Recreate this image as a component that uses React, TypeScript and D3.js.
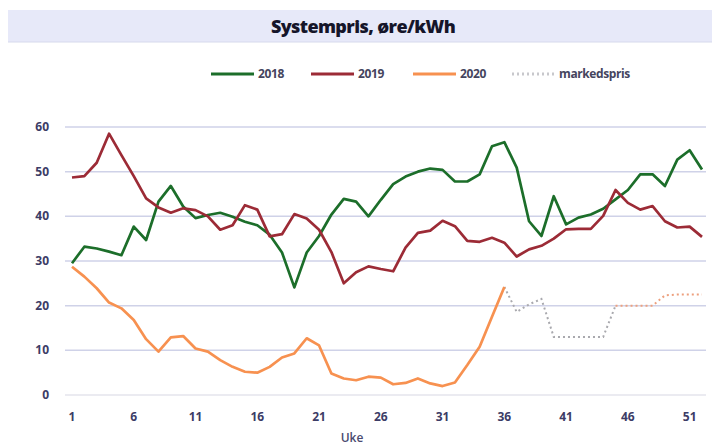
import React from 'react';
import * as d3 from 'd3';

const xTicks = [1, 6, 11, 16, 21, 26, 31, 36, 41, 46, 51];
const yTicks = [0, 10, 20, 30, 40, 50, 60];

const p2018 = [29.5, 33.2, 32.8, 32.1, 31.3, 37.7, 34.7, 43.3, 46.8, 42.2, 39.6, 40.3, 40.8, 39.9, 38.8, 38,
  35.9, 31.9, 24.1, 31.9, 35.6, 40.4, 43.9, 43.3, 40, 43.7, 47.2, 48.9, 50, 50.7, 50.4, 47.8,
  47.8, 49.4, 55.7, 56.6, 50.9, 38.9, 35.6, 44.5, 38.2, 39.7, 40.4, 41.7, 43.8, 45.9, 49.4, 49.4,
  46.8, 52.7, 54.8, 50.5];
const p2019 = [48.7, 49, 52, 58.5, 53.7, 49, 44, 42, 40.8, 41.8, 41.4, 40, 37, 38, 42.5, 41.5,
  35.5, 36, 40.5, 39.5, 37, 32, 25, 27.5, 28.8, 28.2, 27.7, 33, 36.3, 36.8, 39, 37.8,
  34.5, 34.3, 35.2, 34.1, 31, 32.6, 33.4, 35, 37.1, 37.2, 37.2, 40.1, 45.9, 43, 41.5, 42.3,
  38.9, 37.5, 37.7, 35.4];
const p2020 = [28.7, 26.5, 23.9, 20.7, 19.4, 16.8, 12.5, 9.7, 12.9, 13.2, 10.4, 9.7, 7.8, 6.3, 5.2, 5,
  6.3, 8.4, 9.3, 12.7, 11.1, 4.8, 3.7, 3.3, 4.1, 3.9, 2.4, 2.7, 3.7, 2.6, 2, 2.8,
  6.7, 10.8, 17.5, 24.2];
// markedspris starts at week 36
const marketStart = 36;
const market = [24.2, 18.6, 20.3, 21.5, 13, 13, 13, 13, 13, 20, 20, 20, 20, 22.3, 22.5, 22.5, 22.5];

const W = 712;
const H = 445;
const font = "'Open Sans', 'DejaVu Sans', sans-serif";
const textColor = '#3c3c66';

const x = d3.scaleLinear().domain([1, 52]).range([72, 702]);
const y = d3.scaleLinear().domain([0, 60]).range([395, 127]);

type Pt = { w: number; v: number };
const toPts = (vals: number[], start = 1): Pt[] => vals.map((v, i) => ({ w: start + i, v }));

const line = d3.line<Pt>().x(d => x(d.w)).y(d => y(d.v));

const series = [
  { name: '2018', color: '#1c6e2a', pts: toPts(p2018) },
  { name: '2019', color: '#9c2b36', pts: toPts(p2019) },
  { name: '2020', color: '#f79150', pts: toPts(p2020) },
];

const marketPts = toPts(market, marketStart);
const marketA = marketPts.filter(d => d.w <= 45);
const marketB = marketPts.filter(d => d.w >= 45);

const legend = [
  { label: '2018', color: '#1c6e2a', x: 211, dash: undefined },
  { label: '2019', color: '#9c2b36', x: 311, dash: undefined },
  { label: '2020', color: '#f79150', x: 413, dash: undefined },
  { label: 'markedspris', color: '#c8c8cc', x: 512, dash: '2,3' },
];

export default function App() {
  return (
    <svg width={W} height={H} style={{ position: 'fixed', left: 0, top: 0, background: '#fff' }}>
      {/* title band */}
      <rect x={8} y={10} width={704} height={32} fill="#e7e9f9" />
      <line x1={8} x2={712} y1={42} y2={42} stroke="#d6d9ec" strokeWidth={1} />
      <text x={363} y={33} textAnchor="middle" fontFamily={font} fontWeight={800} fontSize={18}
        fill="#15152a" letterSpacing={-0.6}>
        Systempris, øre/kWh
      </text>

      {/* legend */}
      {legend.map(l => (
        <g key={l.label}>
          <line x1={l.x} x2={l.x + 43} y1={74} y2={74} stroke={l.color} strokeWidth={3}
            strokeDasharray={l.dash} />
          <text x={l.x + 47} y={78} fontFamily={font} fontWeight={700} fontSize={12} fill="#45455e"
            letterSpacing={-0.4}>
            {l.label}
          </text>
        </g>
      ))}

      {/* grid */}
      {yTicks.map(t => (
        <g key={t}>
          <line x1={65} x2={706} y1={y(t)} y2={y(t)} stroke={t === 0 ? '#e4e4ec' : '#cfd2e8'} strokeWidth={1.5} />
          <text x={49} y={y(t) + 4} textAnchor="end" fontFamily={font} fontWeight={700} fontSize={12}
            fill={textColor}>
            {t}
          </text>
        </g>
      ))}

      {/* x labels */}
      {xTicks.map(t => (
        <text key={t} x={x(t)} y={421} textAnchor="middle" fontFamily={font} fontWeight={700}
          fontSize={12} fill={textColor}>
          {t}
        </text>
      ))}
      <text x={352} y={442} textAnchor="middle" fontFamily={font} fontWeight={600} fontSize={12} fill="#4a4a70">Uke</text>

      {/* market price */}
      <path d={line(marketA) ?? ''} fill="none" stroke="#a9a9ae" strokeWidth={2} strokeDasharray="2,3" />
      <path d={line(marketB) ?? ''} fill="none" stroke="#eda07e" strokeWidth={2} strokeDasharray="2,3" />

      {/* series */}
      {series.map(s => (
        <path key={s.name} d={line(s.pts) ?? ''} fill="none" stroke={s.color} strokeWidth={2.7}
          strokeLinejoin="round" />
      ))}
    </svg>
  );
}
